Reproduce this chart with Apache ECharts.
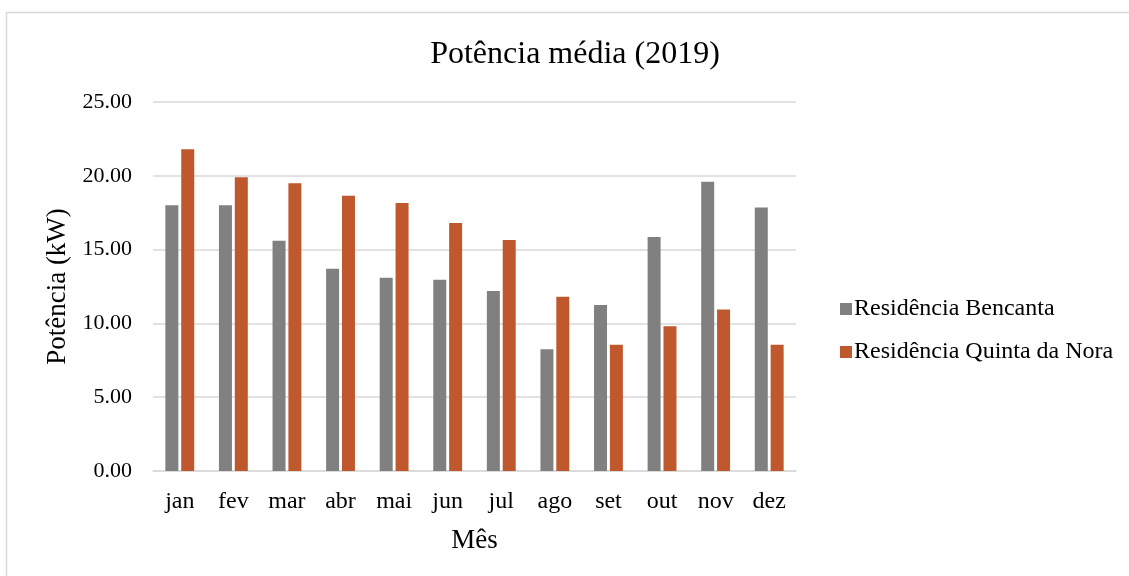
<!DOCTYPE html>
<html>
<head>
<meta charset="utf-8">
<script src="https://cdn.jsdelivr.net/npm/echarts@6/dist/echarts.min.js"></script>
<style>
  html, body { margin: 0; padding: 0; background: #fff; }
  #chart { width: 1129px; height: 576px; }
</style>
</head>
<body>
<div id="chart"></div>
<script>
// Monthly average power, 2019
const months = ['jan', 'fev', 'mar', 'abr', 'mai', 'jun', 'jul', 'ago', 'set', 'out', 'nov', 'dez'];
const bencanta = [18.0, 18.0, 15.6, 13.7, 13.1, 12.95, 12.2, 8.25, 11.25, 15.85, 19.6, 17.85];
const quintaDaNora = [21.8, 19.9, 19.5, 18.65, 18.15, 16.8, 15.65, 11.8, 8.55, 9.8, 10.95, 8.55];
const seriesNames = ['Residência Bencanta', 'Residência Quinta da Nora'];

const font = 'Liberation Serif, Times New Roman, serif';
const chart = echarts.init(document.getElementById('chart'));

chart.setOption({
  backgroundColor: '#fff',
  animation: false,
  textStyle: { fontFamily: font, color: '#000' },
  graphic: [{
    type: 'rect',
    shape: { x: 6.5, y: 12.5, width: 1200, height: 700 },
    style: { fill: 'none', stroke: '#d9d9d9', lineWidth: 1.5 },
    silent: true
  }],
  title: {
    text: 'Potência média (2019)',
    left: 570, top: 34, textAlign: 'center',
    textStyle: { fontFamily: font, fontSize: 32, fontWeight: 'normal', color: '#000' }
  },
  legend: {
    orient: 'vertical',
    left: 835, top: 292,
    itemWidth: 12, itemHeight: 12, itemGap: 19,
    icon: 'rect',
    textStyle: { fontFamily: font, fontSize: 24, color: '#000', padding: [0, 0, 0, -3] },
    data: seriesNames
  },
  grid: { left: 153, right: 333, top: 102, bottom: 105 },
  xAxis: {
    type: 'category',
    data: months,
    name: 'Mês',
    nameLocation: 'middle',
    nameGap: 56,
    nameTextStyle: { fontFamily: font, fontSize: 27, color: '#000' },
    axisLine: { lineStyle: { color: '#d9d9d9', width: 1.5 } },
    axisTick: { show: false },
    axisLabel: { fontFamily: font, fontSize: 24, color: '#000', margin: 19 }
  },
  yAxis: {
    type: 'value',
    min: 0, max: 25, interval: 5,
    name: 'Potência (kW)',
    nameLocation: 'middle',
    nameGap: 82,
    nameRotate: 90,
    nameTextStyle: { fontFamily: font, fontSize: 27, color: '#000' },
    axisLine: { show: false },
    axisTick: { show: false },
    axisLabel: {
      fontFamily: font, fontSize: 22, color: '#000', margin: 21,
      formatter: v => v.toFixed(2)
    },
    splitLine: { lineStyle: { color: '#d9d9d9', width: 1.5 } }
  },
  series: [
    {
      name: seriesNames[0], type: 'bar', data: bencanta,
      barWidth: 13, barGap: '22%',
      itemStyle: { color: '#808080' }
    },
    {
      name: seriesNames[1], type: 'bar', data: quintaDaNora,
      barWidth: 13, barGap: '22%',
      itemStyle: { color: '#bf592d' }
    }
  ]
});
</script>
</body>
</html>
